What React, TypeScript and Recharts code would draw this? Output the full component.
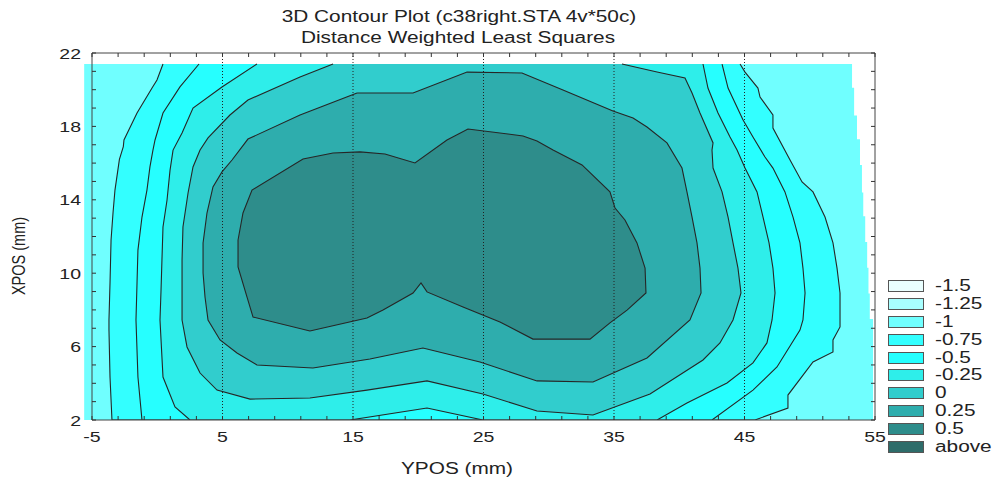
import React from 'react';
import { ScatterChart, Scatter, XAxis, YAxis, ReferenceLine, ReferenceArea, Legend } from 'recharts';

// contour levels shown in the legend, low to high
const levels = ['-1.5', '-1.25', '-1', '-0.75', '-0.5', '-0.25', '0', '0.25', '0.5', 'above'];
const levelColors = ['#EAFFFF', '#A8FFFF', '#70FFFF', '#33FFFF', '#26FFFF', '#2EEEEA', '#31CDCD', '#2EADAD', '#2E8D8B', '#2E6C6A'];

const xMajor = [-5, 5, 15, 25, 35, 45, 55];
const xMinor = [-5, -3, -1, 1, 3, 5, 7, 9, 11, 13, 15, 17, 19, 21, 23, 25, 27, 29, 31, 33, 35, 37, 39, 41, 43, 45, 47, 49, 51, 53, 55];
const yMajor = [2, 6, 10, 14, 18, 22];
const yMinor = [2, 3, 4, 5, 6, 7, 8, 9, 10, 11, 12, 13, 14, 15, 16, 17, 18, 19, 20, 21, 22];
const dottedX = [5, 15, 25, 35, 45];

// surface outline (YPOS, XPOS)
const surfaceLeftEdge = -5.6;
const surfaceTop = 21.4;
const surface = [[-5, 21.4], [53.24, 21.4], [53.24, 20.1], [53.4, 20.1], [53.4, 18.6], [53.62, 18.6], [53.62, 17.3], [53.85, 17.3], [53.85, 15.9], [54.0, 15.9], [54.0, 14.4], [54.1, 14.4], [54.1, 13.1], [54.25, 13.1], [54.25, 11.7], [54.4, 11.7], [54.4, 10.3], [54.5, 10.3], [54.5, 8.9], [54.6, 8.9], [54.6, 7.5], [54.85, 7.5], [54.85, 2], [-5, 2]];

// contour outlines, each one encloses the values above its level
const contourMinus1 = [[0.44, 21.4], [-0.02, 20.53], [-0.4, 20.09], [-1.55, 18.73], [-2.55, 17.26], [-2.6, 16.9], [-2.9, 16.2], [-3.24, 14.53], [-3.39, 13.28], [-3.54, 11.81], [-3.62, 9.47], [-3.7, 7.45], [-3.7, 6.9], [-3.62, 4.34], [-3.47, 2], [45.8, 2], [48.33, 2.65], [48.33, 3.36], [50.25, 5.16], [51.78, 5.71], [51.78, 6.36], [52.32, 7.07], [52.32, 8.92], [52.09, 10.28], [51.78, 11.65], [51.17, 13.06], [50.25, 14.43], [49.41, 14.97], [48.49, 16.17], [47.18, 17.91], [47.18, 18.62], [46.19, 19.6], [46.03, 20.09], [45.04, 20.96], [44.66, 21.4]];
const contourMinus075 = [[3.2, 21.4], [1.74, 20.15], [0.44, 18.73], [-0.17, 17.26], [-0.33, 16.71], [-0.56, 15.79], [-0.79, 14.53], [-1.17, 13.06], [-1.48, 11.26], [-1.55, 9.47], [-1.63, 7.45], [-1.48, 4.34], [-1.17, 2], [42.51, 2], [45.65, 3.63], [47.49, 4.89], [49.25, 6.9], [49.48, 7.45], [49.64, 8.92], [49.48, 10.28], [49.25, 11.65], [48.72, 13.06], [48.1, 14.43], [47.18, 15.73], [46.57, 16.33], [45.65, 17.42], [44.89, 18.35], [43.74, 20.09], [43.28, 21.4]];
const contourMinus05 = [[7.64, 21.4], [4.96, 20.15], [2.74, 19.0], [1.9, 17.64], [1.21, 16.71], [0.98, 15.62], [0.75, 13.99], [0.44, 12.52], [0.36, 10.72], [0.29, 9.08], [0.21, 7.45], [0.44, 4.34], [1.36, 2.71], [2.51, 2], [14.77, 2], [20.67, 2.65], [24.96, 2], [38.3, 2], [40.59, 2.93], [43.66, 4.02], [45.65, 5.11], [46.72, 6.2], [47.11, 7.45], [47.34, 8.92], [47.18, 10.28], [46.88, 11.65], [46.42, 13.06], [45.96, 14.43], [45.04, 15.73], [44.43, 16.71], [43.89, 17.42], [42.97, 18.73], [42.2, 20.09], [41.82, 21.4]];
const contourMinus025 = [[13.47, 21.4], [10.94, 20.69], [6.95, 19.44], [5.57, 18.62], [3.89, 17.37], [3.28, 16.71], [2.74, 15.79], [2.36, 14.37], [1.97, 12.52], [1.9, 10.72], [1.9, 9.08], [1.9, 7.45], [2.28, 5.98], [3.28, 4.56], [4.58, 3.63], [7.11, 3.14], [11.7, 3.2], [16.07, 3.63], [20.67, 4.13], [24.96, 3.42], [29.1, 2.49], [33.39, 2.27], [37.76, 3.42], [41.82, 5.27], [43.12, 6.2], [44.12, 7.45], [44.73, 8.92], [44.5, 10.28], [44.12, 11.65], [43.74, 13.06], [43.28, 14.43], [42.59, 15.73], [42.51, 16.71], [42.59, 17.1], [41.59, 18.73], [40.98, 19.82], [40.44, 20.64], [38.3, 20.96], [35.61, 21.4]];
const contour0 = [[15.31, 19.82], [19.6, 19.82], [23.74, 20.96], [27.95, 20.91], [31.09, 19.98], [34.92, 18.84], [36.46, 18.46], [37.53, 17.97], [39.06, 17.1], [40.21, 15.73], [40.59, 14.43], [40.98, 13.06], [41.36, 11.65], [41.59, 10.28], [41.67, 8.92], [40.82, 7.45], [37.53, 5.38], [33.39, 4.07], [29.1, 4.13], [24.73, 5.16], [20.36, 5.92], [16.3, 5.32], [11.93, 4.83], [7.64, 5.0], [6.11, 5.65], [4.81, 6.36], [3.89, 7.45], [3.66, 8.7], [3.51, 10.01], [3.51, 11.65], [3.81, 13.28], [4.27, 14.7], [4.96, 15.52], [5.73, 16.17], [6.95, 17.31], [10.94, 18.62], [15.31, 19.82]];
const contour025 = [[6.19, 11.81], [6.57, 13.28], [7.26, 14.53], [11.17, 16.22], [13.47, 16.55], [15.54, 16.61], [17.45, 16.5], [19.75, 16.01], [22.2, 17.26], [23.81, 17.86], [28.03, 17.48], [29.1, 17.2], [30.33, 16.71], [32.55, 15.9], [34.69, 14.43], [35.08, 13.55], [35.84, 12.9], [36.76, 11.65], [37.38, 10.28], [37.45, 8.92], [36.0, 7.99], [34.69, 7.29], [33.16, 6.41], [28.79, 6.41], [26.26, 7.34], [23.43, 8.16], [20.67, 8.98], [20.21, 9.47], [19.6, 8.92], [17.3, 7.99], [16.07, 7.56], [11.7, 6.85], [7.34, 7.61], [6.88, 8.7], [6.19, 10.34], [6.19, 11.81]];

const toPoints = (a: number[][]) => a.map(([x, y]) => ({ x, y }));

const LINE = '#262626';

const bands = [
  { key: 'surface', data: surface, fill: levelColors[2], stroke: 'none' },
  { key: 'c-1', data: contourMinus1, fill: levelColors[3], stroke: LINE },
  { key: 'c-0.75', data: contourMinus075, fill: levelColors[4], stroke: LINE },
  { key: 'c-0.5', data: contourMinus05, fill: levelColors[5], stroke: LINE },
  { key: 'c-0.25', data: contourMinus025, fill: levelColors[6], stroke: LINE },
  { key: 'c0', data: contour0, fill: levelColors[7], stroke: LINE },
  { key: 'c0.25', data: contour025, fill: levelColors[8], stroke: LINE },
];

const W = 994;
const H = 478;
const TOP = 53;
const BOTTOM = 420;
const LEFT = 92;
const RIGHT = 875;
const FONT = '"Liberation Sans", Arial, sans-serif';
const STRETCH = 1.3;

const XTick = (props: any) => {
  const { x, payload } = props;
  const v = payload.value;
  return (
    <g>
      <line x1={x} x2={x} y1={BOTTOM} y2={BOTTOM - 4} stroke="#333" />
      <line x1={x} x2={x} y1={TOP} y2={TOP + 4} stroke="#333" />
      {xMajor.includes(v) && (
        <text transform={`translate(${x},${BOTTOM + 22}) scale(${STRETCH},1)`} textAnchor="middle" fontSize={15} fill="#222" fontFamily={FONT}>
          {v}
        </text>
      )}
    </g>
  );
};

const YTick = (props: any) => {
  const { y, payload } = props;
  const v = payload.value;
  return (
    <g>
      <line x1={LEFT} x2={LEFT + 4} y1={y} y2={y} stroke="#333" />
      <line x1={RIGHT} x2={RIGHT - 4} y1={y} y2={y} stroke="#333" />
      {yMajor.includes(v) && (
        <text transform={`translate(${LEFT - 11},${y + 5.5}) scale(${STRETCH},1)`} textAnchor="end" fontSize={15} fill="#222" fontFamily={FONT}>
          {v}
        </text>
      )}
    </g>
  );
};

const LevelLegend = () => (
  <div style={{ fontFamily: FONT, color: '#222' }}>
    {levels.map((lv, i) => (
      <div key={lv} style={{ display: 'flex', alignItems: 'center', height: 17.9 }}>
        <div style={{ width: 34, height: 10, background: levelColors[i], border: '1.5px solid #555' }} />
        <span style={{ marginLeft: 11, fontSize: 16, lineHeight: '16px', display: 'inline-block', transform: `scaleX(${STRETCH})`, transformOrigin: 'left center' }}>{lv}</span>
      </div>
    ))}
  </div>
);

const centered = (x: number, y: number, size: number): React.CSSProperties => ({
  position: 'absolute',
  left: x,
  top: y,
  transform: `translate(-50%, -50%) scaleX(${STRETCH})`,
  fontSize: size,
  lineHeight: 1,
  whiteSpace: 'nowrap',
  color: '#222',
});

export default function App() {
  return (
    <div style={{ position: 'fixed', left: 0, top: 0, width: W, height: H, background: '#fff', fontFamily: FONT }}>
      <ScatterChart width={W} height={H} margin={{ top: TOP, right: W - RIGHT, bottom: 0, left: 0 }}>
        <XAxis dataKey="x" type="number" domain={[-5, 55]} ticks={xMinor} interval={0} height={H - BOTTOM} axisLine={false} tickLine={false} tick={<XTick />} allowDataOverflow />
        <YAxis dataKey="y" type="number" domain={[2, 22]} ticks={yMinor} interval={0} width={LEFT} axisLine={false} tickLine={false} tick={<YTick />} allowDataOverflow />
        <ReferenceArea x1={surfaceLeftEdge} x2={-5} y1={2} y2={surfaceTop} fill={levelColors[2]} fillOpacity={1} stroke="none" ifOverflow="visible" />
        {bands.map((b) => (
          <Scatter
            key={b.key}
            data={toPoints(b.data)}
            isAnimationActive={false}
            line={{ fill: b.fill, stroke: b.stroke, strokeWidth: 1.1 }}
            lineType="joint"
            shape={() => <g />}
            legendType="none"
          />
        ))}
        {dottedX.map((x) => (
          <ReferenceLine key={x} x={x} stroke="#222" strokeDasharray="1 2" strokeWidth={1} zIndex={1000} />
        ))}
        <ReferenceArea x1={-5} x2={55} y1={2} y2={22} fill="none" stroke="#444" strokeWidth={1} zIndex={1000} />
        <Legend content={<LevelLegend />} layout="vertical" align="center" verticalAlign="middle" wrapperStyle={{ left: 888, top: 277, width: 106 }} />
      </ScatterChart>
      <div style={centered(459, 17, 16)}>3D Contour Plot (c38right.STA 4v*50c)</div>
      <div style={centered(458, 38, 16)}>Distance Weighted Least Squares</div>
      <div style={centered(457, 469, 16)}>YPOS (mm)</div>
      <div style={{ ...centered(19, 256, 14.5), transform: 'translate(-50%, -50%) rotate(-90deg) scaleY(1.3)' }}>XPOS (mm)</div>
    </div>
  );
}
